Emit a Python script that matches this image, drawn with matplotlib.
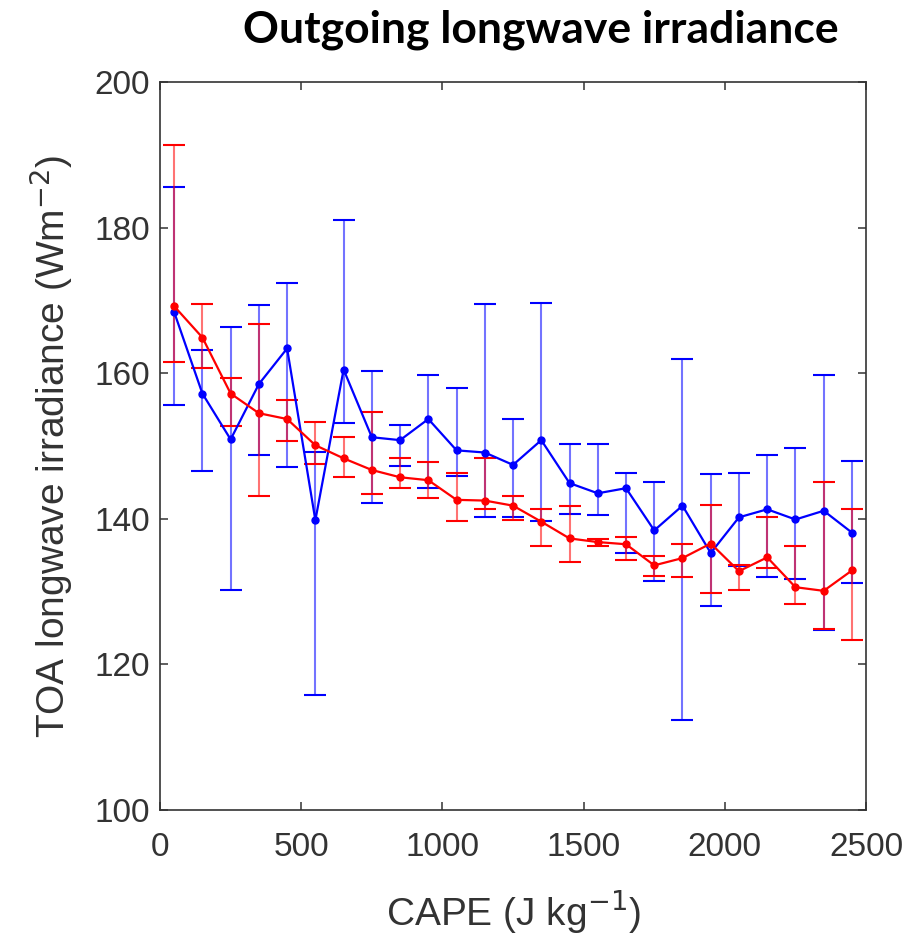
import numpy as np
import matplotlib
matplotlib.use('Agg')
import matplotlib.pyplot as plt

# CAPE bin centres (J kg-1)
cape = [50, 150, 250, 350, 450, 550, 650, 750, 850, 950, 1050, 1150, 1250,
        1350, 1450, 1550, 1650, 1750, 1850, 1950, 2050, 2150, 2250, 2350, 2450]

# blue series: mean, upper and lower whisker ends
blue_mean = [168.4, 157.2, 150.9, 158.5, 163.4, 139.8, 160.5, 151.2, 150.8, 153.7, 149.4, 149.1, 147.4,
             150.8, 144.9, 143.5, 144.2, 138.4, 141.8, 135.3, 140.2, 141.3, 139.9, 141.1, 138.1]
blue_upper = [185.6, 163.2, 166.3, 169.3, 172.4, 149.2, 181.0, 160.3, 152.9, 159.7, 157.9, 169.5, 153.7,
              169.6, 150.3, 150.3, 146.3, 145.1, 162.0, 146.1, 146.3, 148.8, 149.7, 159.7, 148.0]
blue_lower = [155.6, 146.6, 130.2, 148.8, 147.1, 115.8, 153.1, 142.2, 147.3, 144.2, 145.9, 140.3, 140.3,
              139.7, 140.7, 140.5, 135.3, 131.5, 112.4, 128.0, 133.5, 132.0, 131.7, 124.7, 131.2]

# red series: mean, upper and lower whisker ends
red_mean = [169.2, 164.9, 157.2, 154.5, 153.7, 150.1, 148.3, 146.7, 145.7, 145.3, 142.6, 142.5, 141.8,
            139.6, 137.3, 136.8, 136.5, 133.6, 134.6, 136.6, 132.8, 134.7, 130.6, 130.1, 132.9]
red_upper = [191.3, 169.5, 159.3, 166.8, 156.3, 153.3, 151.2, 154.6, 148.3, 147.8, 146.3, 148.3, 143.1,
             141.4, 141.7, 137.2, 137.5, 134.9, 136.5, 141.9, 133.6, 140.2, 136.3, 145.1, 141.4]
red_lower = [161.5, 160.7, 152.7, 143.1, 150.7, 147.5, 145.7, 143.4, 144.2, 142.9, 139.7, 141.4, 139.8,
             136.3, 134.1, 136.3, 134.3, 132.2, 132.0, 129.8, 130.2, 133.2, 128.3, 124.8, 123.4]

plt.rcParams['font.family'] = ['Liberation Sans', 'DejaVu Sans']

fig = plt.figure(figsize=(9.15, 9.38), dpi=100)
ax = fig.add_axes([0.1749, 0.1365, 0.7716, 0.7761])

# draw both series with asymmetric whiskers
for mean, upper, lower, col in [(blue_mean, blue_upper, blue_lower, '#0000ff'),
                                (red_mean, red_upper, red_lower, '#ff0000')]:
    mean = np.array(mean)
    yerr = [mean - np.array(lower), np.array(upper) - mean]
    line, caps, bars = ax.errorbar(cape, mean, yerr=yerr, color=col, marker='o', markersize=5,
                                   linewidth=1.6, elinewidth=1.5, capsize=8, capthick=1.5)
    bars[0].set_alpha(0.55)

ax.set_xlim(0, 2500)
ax.set_ylim(100, 200)
ax.set_xticks([0, 500, 1000, 1500, 2000, 2500])
ax.set_yticks([100, 120, 140, 160, 180, 200])

for s in ax.spines.values():
    s.set_color('#333333')
    s.set_linewidth(1.2)
ax.tick_params(direction='in', top=True, right=True, length=6, width=1.1, color='#333333',
               labelsize=24, labelcolor='#333333')
ax.tick_params(axis='y', pad=7)
ax.tick_params(axis='x', pad=16)

ax.set_xlabel('CAPE (J kg$^{-1}$)', fontsize=28, color='#333333', labelpad=18)
ax.set_ylabel('TOA longwave irradiance (Wm$^{-2}$)', fontsize=28, color='#333333', labelpad=14)

fig.text(0.591, 0.968, 'Outgoing longwave irradiance', fontsize=32, fontweight='bold',
         family=['Lato', 'DejaVu Sans'], ha='center', va='center', color='black')

fig.savefig('out.png', dpi=100)
